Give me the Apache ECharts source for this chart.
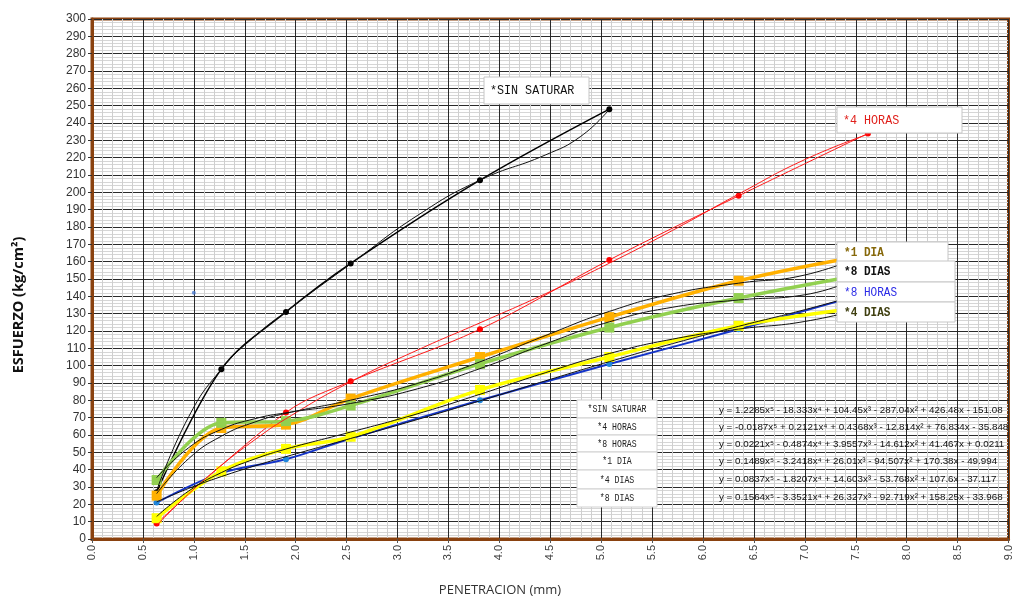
<!DOCTYPE html>
<html><head><meta charset="utf-8">
<script src="https://cdn.jsdelivr.net/npm/echarts@6/dist/echarts.min.js"></script>
<style>html,body{margin:0;padding:0;background:#fff}#c{width:1014px;height:596px}</style>
</head><body><div id="c"></div>
<script>
// ---- data ----
const penetracion = [0.635, 1.27, 1.905, 2.54, 3.81, 5.08, 6.35, 7.62];
const sinSaturar = [27, 98, 131, 159, 207, 248];
const horas4 = [9, null, 73, 91, 121, 161, 198, 234];
const horas8 = [21, 38, 46, 58, 80, 101, 121, 142];
const dia1 = [25, 64, 66, 81, 105, 128, 149, 164];
const dias4 = [12, 39, 52, 59, 86, 105, 123, 134];
const dias8 = [34, 67, 68, 77, 101, 122, 139, 153];
const strayPoint = [[1.0, 142]];

// trendline curves as they appear (read at these penetrations)
const trendX = [0.635, 0.95, 1.27, 1.6, 1.905, 2.54, 3.2, 3.81, 4.45, 5.08, 5.7, 6.35, 7.0, 7.62];
const trendXSin = [0.635, 0.95, 1.27, 1.6, 1.905, 2.54, 3.2, 3.81, 4.45, 4.8, 5.08];
const trendSin = [27.9, 70.6, 97.9, 117.0, 131.2, 158.7, 186.8, 207.0, 221.5, 232.3, 247.9];
const trend4h = [7.9, 26.1, 42.5, 57.3, 69.4, 90.7, 109.1, 124.7, 141.4, 159.1, 178.0, 199.0, 218.9, 233.5];
const trend8h = [21.4, 29.2, 36.0, 42.2, 47.5, 58.0, 69.0, 79.7, 91.2, 102.3, 112.7, 122.7, 132.3, 142.3];
const trend1d = [26.2, 46.4, 59.3, 67.5, 72.5, 80.1, 89.8, 102.2, 117.3, 131.3, 141.4, 147.6, 152.3, 164.6];
const trend4d = [13.0, 27.7, 38.3, 46.2, 51.9, 61.7, 72.3, 83.5, 95.9, 107.0, 115.3, 121.1, 125.5, 133.7];
const trend8d = [35.4, 52.7, 63.2, 69.4, 72.8, 78.2, 86.7, 98.3, 112.5, 125.3, 133.7, 137.9, 140.9, 153.1];

const seriesNames = ['*SIN SATURAR', '*4 HORAS', '*8 HORAS', '*1 DIA', '*4 DIAS', '*8 DIAS'];
const equations = [
  'y = 1.2285x⁵ - 18.333x⁴ + 104.45x³ - 287.04x² + 426.48x - 151.08',
  'y = -0.0187x⁵ + 0.2121x⁴ + 0.4368x³ - 12.814x² + 76.834x - 35.848',
  'y = 0.0221x⁵ - 0.4874x⁴ + 3.9557x³ - 14.612x² + 41.467x + 0.0211',
  'y = 0.1489x⁵ - 3.2418x⁴ + 26.01x³ - 94.507x² + 170.38x - 49.994',
  'y = 0.0837x⁵ - 1.8207x⁴ + 14.603x³ - 53.768x² + 107.6x - 37.117',
  'y = 0.1564x⁵ - 3.3521x⁴ + 26.327x³ - 92.719x² + 158.25x - 33.968'
];
const xTicks = ['0.0','0.5','1.0','1.5','2.0','2.5','3.0','3.5','4.0','4.5','5.0','5.5','6.0','6.5','7.0','7.5','8.0','8.5','9.0'];

function pairs(xs, ys) { return ys.map((v, i) => [xs[i], v]); }

const chart = echarts.init(document.getElementById('c'), null, {renderer: 'canvas'});

function dataSeries(name, ys, color, width, symbol, size, symColor, z) {
  return {
    name: name, type: 'line', data: pairs(penetracion, ys), smooth: 0.35, connectNulls: true,
    lineStyle: {color: color, width: width}, itemStyle: {color: symColor || color},
    symbol: symbol, symbolSize: size, showSymbol: true, z: z, animation: false
  };
}
function trendSeries(name, xs, ys, color) {
  return {
    name: name + ' tendencia', type: 'line', data: pairs(xs, ys), smooth: 0.5,
    lineStyle: {color: color, width: 1}, symbol: 'none', z: 20, animation: false
  };
}

const ZG = 100;
function box(x, y, w, h, text, color, size, bold, textX, sx) {
  return [
    {type: 'rect', x: x, y: y, z: ZG, shape: {x: 0, y: 0, width: w, height: h},
     style: {fill: '#ffffff', stroke: '#c6c6c6', lineWidth: 1}},
    {type: 'text', x: x + textX, y: y + h / 2 + 0.5, scaleX: sx, z: ZG + 1,
     style: {text: text, fill: color, font: (bold ? 'bold ' : '') + size + 'px "Liberation Mono", monospace',
             align: 'left', verticalAlign: 'middle'}}
  ];
}
const tableRows = [[400, 18], [418, 17], [435, 17], [452, 18], [470, 19], [489, 18]];
const eqY = [410, 427, 444, 461, 479, 497];

let graphics = [];
graphics = graphics.concat(
  box(484, 77, 105, 27, '*SIN SATURAR', '#111', 13, false, 6, 0.9),
  box(837, 107, 125, 26, '*4 HORAS', '#e0201b', 13, false, 6, 0.9),
  box(837, 242, 111, 21, '*1 DIA', '#86680a', 13, true, 7, 0.85),
  box(837, 261, 118, 21, '*8 DIAS', '#111', 13, true, 7, 0.85),
  box(837, 282, 118, 20, '*8 HORAS', '#2a2ae6', 13, false, 7, 0.85),
  box(837, 302, 118, 20, '*4 DIAS', '#3f3f10', 13, true, 7, 0.85)
);
seriesNames.forEach((n, i) => {
  graphics.push(
    {type: 'rect', x: 577, y: tableRows[i][0], z: ZG, shape: {x: 0, y: 0, width: 80, height: tableRows[i][1]},
     style: {fill: '#ffffff', stroke: '#d0d0d0', lineWidth: 1}},
    {type: 'text', x: 617, y: tableRows[i][0] + tableRows[i][1] / 2 + 0.5, scaleX: 0.82, z: ZG + 1,
     style: {text: n, fill: '#222', font: '10px "Liberation Mono", monospace', align: 'center', verticalAlign: 'middle'}},
    {type: 'text', x: 719, y: eqY[i], z: ZG + 1,
     style: {text: equations[i], fill: '#111', font: '9.8px "Liberation Sans", Arial, sans-serif', align: 'left', verticalAlign: 'middle'}}
  );
});
graphics.push({
  type: 'text', x: 19, y: 305, rotation: Math.PI / 2, z: ZG,
  style: {text: 'ESFUERZO (kg/cm²)', fill: '#111', font: 'bold 14.5px "Open Sans", sans-serif', align: 'center', verticalAlign: 'middle'}
});
graphics.push({
  type: 'text', x: 500, y: 590, z: ZG,
  style: {text: 'PENETRACION (mm)', fill: '#333', font: '13px "Open Sans", sans-serif', align: 'center', verticalAlign: 'middle'}
});

const option = {
  backgroundColor: '#fff',
  animation: false,
  grid: {left: 92, right: 4, top: 19, bottom: 57, show: true, borderColor: '#8a4210', borderWidth: 3, backgroundColor: 'transparent', z: 0},
  xAxis: {
    type: 'value', min: 0, max: 9, interval: 0.5,
    axisLine: {show: true, lineStyle: {color: '#8a4210', width: 3}},
    axisTick: {show: true, length: 4, lineStyle: {color: '#555'}},
    axisLabel: {rotate: 90, margin: 6, color: '#404040', fontSize: 11, fontFamily: 'Liberation Sans',
      formatter: v => xTicks[Math.round(v / 0.5)]},
    splitLine: {show: true, lineStyle: {color: '#2a2a2a', width: 1}},
    minorTick: {show: false, splitNumber: 5},
    minorSplitLine: {show: true, lineStyle: {color: '#cfcfcf', width: 1}}
  },
  yAxis: {
    type: 'value', min: 0, max: 300, interval: 10,
    axisLine: {show: true, lineStyle: {color: '#8a4210', width: 3}},
    axisTick: {show: true, length: 4, lineStyle: {color: '#333'}},
    axisLabel: {margin: 6, color: '#333', fontSize: 12, fontFamily: 'Liberation Sans'},
    splitLine: {show: true, lineStyle: {color: '#2a2a2a', width: 1}},
    minorTick: {show: false, splitNumber: 5},
    minorSplitLine: {show: true, lineStyle: {color: '#d6d6d6', width: 1}}
  },
  graphic: {elements: graphics},
  series: [
    dataSeries(seriesNames[0], sinSaturar, '#000', 1.5, 'circle', 6, '#000', 10),
    dataSeries(seriesNames[1], horas4, '#ff1a1a', 1, 'circle', 6, '#ff0000', 11),
    dataSeries(seriesNames[2], horas8, '#1434c8', 2, 'circle', 6, '#1f86dc', 12),
    dataSeries(seriesNames[3], dia1, '#ffb000', 3.5, 'rect', 10, '#ffb000', 13),
    dataSeries(seriesNames[4], dias4, '#ffff00', 3.5, 'rect', 10, '#ffff00', 14),
    dataSeries(seriesNames[5], dias8, '#92d050', 3.5, 'rect', 10, '#92d050', 15),
    trendSeries(seriesNames[0], trendXSin, trendSin, '#111'),
    trendSeries(seriesNames[1], trendX, trend4h, '#ff1a1a'),
    trendSeries(seriesNames[2], trendX, trend8h, '#111'),
    trendSeries(seriesNames[3], trendX, trend1d, '#111'),
    trendSeries(seriesNames[4], trendX, trend4d, '#111'),
    trendSeries(seriesNames[5], trendX, trend8d, '#111'),
    {name: 'punto', type: 'scatter', data: strayPoint, symbol: 'circle', symbolSize: 4,
     itemStyle: {color: '#4a7bd0'}, z: 16, animation: false}
  ]
};
chart.setOption(option);
</script>
</body></html>
